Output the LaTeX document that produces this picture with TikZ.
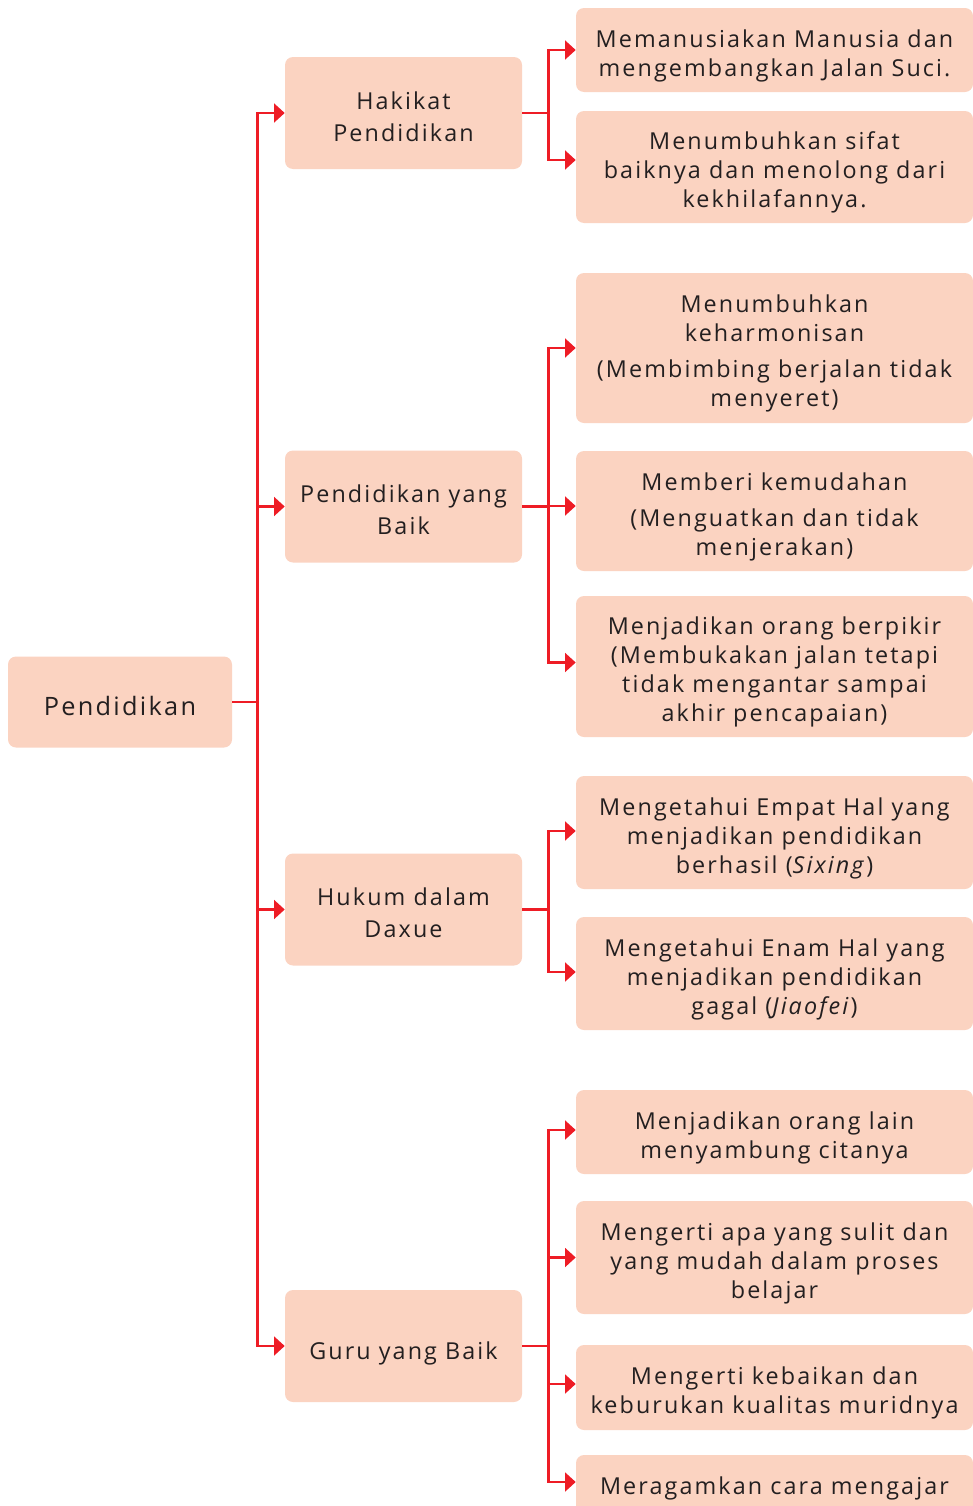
\documentclass[tikz,border=0pt]{standalone}
\usepackage{fontspec}
\setmainfont[LetterSpace=9]{Open Sans}
\usepackage{xcolor}
\usetikzlibrary{arrows.meta}
\definecolor{peach}{HTML}{FBD3C1}
\definecolor{mapred}{HTML}{EE1C25}
\definecolor{ink}{HTML}{231F20}
\begin{document}
\begin{tikzpicture}[x=0.75pt,y=-0.75pt,
  box/.style={fill=peach,rounded corners=6pt,inner sep=0pt},
  txt/.style={align=center,inner sep=0pt,text=ink,font=\fontsize{17.5}{21.75}\selectfont},
  leaftxt/.style={txt,yshift=-4.2pt},
  midtxt/.style={txt,font=\fontsize{17.5}{24}\selectfont,yshift=-2.6pt},
  roottxt/.style={txt,font=\fontsize{19}{24}\selectfont,yshift=-3pt},
  rootbox/.style={box,minimum width=168pt,minimum height=68.25pt},
  midbox/.style={box,minimum width=177.75pt,minimum height=84pt},
  leafbox/.style={box,minimum width=297.75pt},
  mid/.style={midbox,label={[midtxt]center:{#1}}},
  leaf/.style={leafbox,label={[leaftxt]center:{#1}}},
  link/.style={draw=mapred,line width=2pt,-{Triangle[length=8pt,width=14pt]}}]
\clip (0,0) rectangle (973,1506);
\node[rootbox,label={[roottxt]center:Pendidikan}] (root) at (120,702) {};
\node[mid={Hakikat\\Pendidikan}] (hakikat) at (403.5,113) {};
\node[mid={Pendidikan yang\\Baik}] (baik) at (403.5,506.5) {};
\node[mid={Hukum dalam\\Daxue}] (hukum) at (403.5,909.5) {};
\node[midbox,label={[midtxt,yshift=-2.6pt]center:Guru yang Baik}] (guru) at (403.5,1346) {};
\node[leaf={Memanusiakan Manusia dan\\mengembangkan Jalan Suci.},minimum height=63pt] (h1) at (774.5,50) {};
\node[leaf={Menumbuhkan sifat\\baiknya dan menolong dari\\kekhilafannya.},minimum height=84pt] (h2) at (774.5,167) {};
\node[leaf={Menumbuhkan\\keharmonisan\\[5pt](Membimbing berjalan tidak\\menyeret)},minimum height=112.5pt] (b1) at (774.5,348) {};
\node[leaf={Memberi kemudahan\\[5pt](Menguatkan dan tidak\\menjerakan)},minimum height=90pt] (b2) at (774.5,511) {};
\node[leaf={Menjadikan orang berpikir\\(Membukakan jalan tetapi\\tidak mengantar sampai\\akhir pencapaian)},minimum height=105.75pt] (b3) at (774.5,666.5) {};
\node[leaf={Mengetahui Empat Hal yang\\menjadikan pendidikan\\berhasil (\textit{Sixing})},minimum height=84.75pt] (d1) at (774.5,832.5) {};
\node[leaf={Mengetahui Enam Hal yang\\menjadikan pendidikan\\gagal (\textit{Jiaofei})},minimum height=84.75pt] (d2) at (774.5,973.5) {};
\node[leaf={Menjadikan orang lain\\menyambung citanya},minimum height=63pt] (g1) at (774.5,1132) {};
\node[leaf={Mengerti apa yang sulit dan\\yang mudah dalam proses\\belajar},minimum height=84.75pt] (g2) at (774.5,1257.5) {};
\node[leaf={Mengerti kebaikan dan\\keburukan kualitas muridnya},minimum height=63.75pt] (g3) at (774.5,1387.5) {};
\node[leafbox,minimum height=49.5pt,label={[txt]center:Meragamkan cara mengajar}] (g4) at (774.5,1488) {};
\foreach \t in {hakikat,baik,hukum,guru}
  \draw[link] (root.east) -- ++(25,0) |- (\t.west);
\foreach \t/\dy in {h1/0,h2/7}
  \draw[link] (hakikat.east) -- ++(26,0) |- ([yshift=\dy*0.75pt]\t.west);
\foreach \t/\dy in {b1/0,b2/5,b3/4}
  \draw[link] (baik.east) -- ++(26,0) |- ([yshift=\dy*0.75pt]\t.west);
\foreach \t/\dy in {d1/1.5,d2/1.5}
  \draw[link] (hukum.east) -- ++(26,0) |- ([yshift=\dy*0.75pt]\t.west);
\foreach \t/\dy in {g1/2,g2/0,g3/3.5,g4/6}
  \draw[link] (guru.east) -- ++(26,0) |- ([yshift=\dy*0.75pt]\t.west);
\end{tikzpicture}
\end{document}
